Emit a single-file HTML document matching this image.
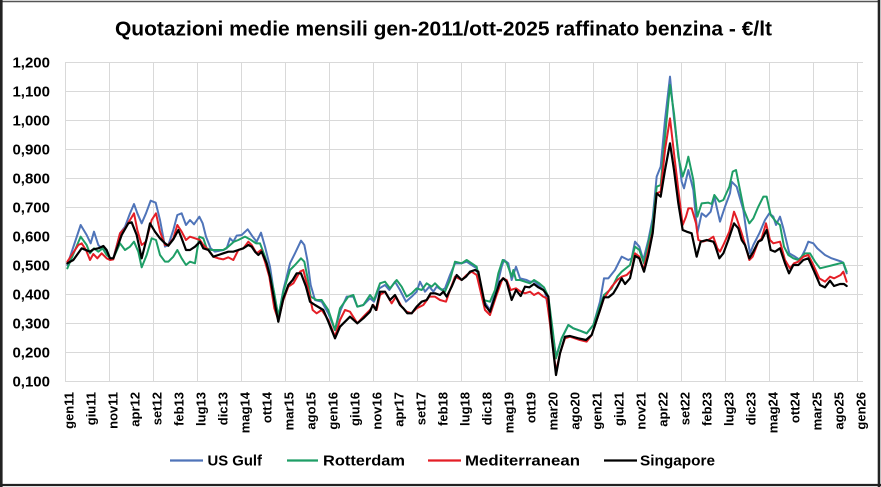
<!DOCTYPE html>
<html>
<head>
<meta charset="utf-8">
<style>
html,body{margin:0;padding:0;background:#fff;}
svg{display:block;}
text{font-family:"Liberation Sans",Arial,sans-serif;font-weight:bold;fill:#000;}
.s{fill:none;stroke-width:2;stroke-linejoin:round;stroke-linecap:round;vector-effect:non-scaling-stroke;}
.b{stroke:#4f74b9;}
.g{stroke:#1e9e66;}
.r{stroke:#e41e26;}
.k{stroke:#000;stroke-width:2.2;}
</style>
</head>
<body>
<svg width="881" height="487" viewBox="0 0 881 487" xmlns="http://www.w3.org/2000/svg">
<rect x="0" y="0" width="881" height="487" fill="#fff"/>

<!-- title -->
<text x="115" y="35.5" font-size="20" textLength="657" lengthAdjust="spacingAndGlyphs">Quotazioni medie mensili gen-2011/ott-2025 raffinato benzina - €/lt</text>

<!-- horizontal gridlines -->
<g stroke="#d9d9d9" stroke-width="1">
<line x1="65" y1="62.5" x2="863" y2="62.5"/>
<line x1="65" y1="91.5" x2="863" y2="91.5"/>
<line x1="65" y1="120.5" x2="863" y2="120.5"/>
<line x1="65" y1="149.5" x2="863" y2="149.5"/>
<line x1="65" y1="178.5" x2="863" y2="178.5"/>
<line x1="65" y1="207.5" x2="863" y2="207.5"/>
<line x1="65" y1="236.5" x2="863" y2="236.5"/>
<line x1="65" y1="265.5" x2="863" y2="265.5"/>
<line x1="65" y1="294.5" x2="863" y2="294.5"/>
<line x1="65" y1="323.5" x2="863" y2="323.5"/>
<line x1="65" y1="352.5" x2="863" y2="352.5"/>
<line x1="65" y1="381.5" x2="863" y2="381.5"/>
<!-- vertical gridlines -->
<line x1="65.5" y1="62" x2="65.5" y2="382"/>
<line x1="109.5" y1="62" x2="109.5" y2="382"/>
<line x1="153.5" y1="62" x2="153.5" y2="382"/>
<line x1="197.5" y1="62" x2="197.5" y2="382"/>
<line x1="241.5" y1="62" x2="241.5" y2="382"/>
<line x1="285.5" y1="62" x2="285.5" y2="382"/>
<line x1="329.5" y1="62" x2="329.5" y2="382"/>
<line x1="373.5" y1="62" x2="373.5" y2="382"/>
<line x1="417.5" y1="62" x2="417.5" y2="382"/>
<line x1="461.5" y1="62" x2="461.5" y2="382"/>
<line x1="505.5" y1="62" x2="505.5" y2="382"/>
<line x1="549.5" y1="62" x2="549.5" y2="382"/>
<line x1="593.5" y1="62" x2="593.5" y2="382"/>
<line x1="637.5" y1="62" x2="637.5" y2="382"/>
<line x1="681.5" y1="62" x2="681.5" y2="382"/>
<line x1="725.5" y1="62" x2="725.5" y2="382"/>
<line x1="769.5" y1="62" x2="769.5" y2="382"/>
<line x1="813.5" y1="62" x2="813.5" y2="382"/>
<line x1="857.5" y1="62" x2="857.5" y2="382"/>
</g>

<!-- y labels -->
<g font-size="15" text-anchor="end">
<text x="50" y="67.5">1,200</text>
<text x="50" y="96.5">1,100</text>
<text x="50" y="125.5">1,000</text>
<text x="50" y="154.5">0,900</text>
<text x="50" y="183.5">0,800</text>
<text x="50" y="212.5">0,700</text>
<text x="50" y="241.5">0,600</text>
<text x="50" y="270.5">0,500</text>
<text x="50" y="299.5">0,400</text>
<text x="50" y="328.5">0,300</text>
<text x="50" y="357.5">0,200</text>
<text x="50" y="386.5">0,100</text>
</g>

<!-- x labels -->
<g font-size="13" text-anchor="end">
<text transform="translate(73.7,392) rotate(-90)">gen11</text>
<text transform="translate(95.7,392) rotate(-90)">giu11</text>
<text transform="translate(117.7,392) rotate(-90)">nov11</text>
<text transform="translate(139.7,392) rotate(-90)">apr12</text>
<text transform="translate(161.7,392) rotate(-90)">set12</text>
<text transform="translate(183.7,392) rotate(-90)">feb13</text>
<text transform="translate(205.7,392) rotate(-90)">lug13</text>
<text transform="translate(227.7,392) rotate(-90)">dic13</text>
<text transform="translate(249.7,392) rotate(-90)">mag14</text>
<text transform="translate(271.7,392) rotate(-90)">ott14</text>
<text transform="translate(293.7,392) rotate(-90)">mar15</text>
<text transform="translate(315.7,392) rotate(-90)">ago15</text>
<text transform="translate(337.7,392) rotate(-90)">gen16</text>
<text transform="translate(359.7,392) rotate(-90)">giu16</text>
<text transform="translate(381.7,392) rotate(-90)">nov16</text>
<text transform="translate(403.7,392) rotate(-90)">apr17</text>
<text transform="translate(425.7,392) rotate(-90)">set17</text>
<text transform="translate(447.7,392) rotate(-90)">feb18</text>
<text transform="translate(469.7,392) rotate(-90)">lug18</text>
<text transform="translate(491.7,392) rotate(-90)">dic18</text>
<text transform="translate(513.7,392) rotate(-90)">mag19</text>
<text transform="translate(535.7,392) rotate(-90)">ott19</text>
<text transform="translate(557.7,392) rotate(-90)">mar20</text>
<text transform="translate(579.7,392) rotate(-90)">ago20</text>
<text transform="translate(601.7,392) rotate(-90)">gen21</text>
<text transform="translate(623.7,392) rotate(-90)">giu21</text>
<text transform="translate(645.7,392) rotate(-90)">nov21</text>
<text transform="translate(667.7,392) rotate(-90)">apr22</text>
<text transform="translate(689.7,392) rotate(-90)">set22</text>
<text transform="translate(711.7,392) rotate(-90)">feb23</text>
<text transform="translate(733.7,392) rotate(-90)">lug23</text>
<text transform="translate(755.7,392) rotate(-90)">dic23</text>
<text transform="translate(777.7,392) rotate(-90)">mag24</text>
<text transform="translate(799.7,392) rotate(-90)">ott24</text>
<text transform="translate(821.7,392) rotate(-90)">mar25</text>
<text transform="translate(843.7,392) rotate(-90)">ago25</text>
<text transform="translate(865.7,392) rotate(-90)">gen26</text>
</g>

<!-- ===== US Gulf (blue) ===== -->
<g transform="translate(60,180) scale(0.333333)">
<polyline class="s b" points="22,255 62,135 80,165 92,190 102,155 115,195 125,205 140,215 150,235 160,235 180,160 195,140 210,100 222,72 232,100 245,130 258,100 272,62 287,68 300,120 315,200 325,195 340,150 352,105 365,100 378,135 390,120 402,133 418,110 428,130 438,170 452,205 465,215 490,210 500,205 510,175 520,185 530,167 545,165 563,148 578,170 590,185 603,158 615,200 630,260 642,340 655,410"/>
</g>
<g transform="translate(270,220) scale(0.333333)">
<polyline class="s b" points="25,290 40,210 60,130 75,100 93,62 103,75 112,120 122,195 135,240 155,245 175,280 195,330 212,270 230,230 250,230 262,260 280,255 300,235 312,245 328,205 345,195 358,210 375,185 390,210 408,245 425,230 440,215 450,185 465,215 478,200 490,215 500,200 515,210 525,205 540,165 555,130 575,130 590,125 605,135 620,145 640,240 660,270"/>
</g>
<g transform="translate(480,210) scale(0.333333)">
<polyline class="s b" points="30,300 48,240 65,170 72,150 85,160 95,210 108,170 120,205 140,210 150,215 165,215 180,230 195,245 215,350 228,440 245,385 265,345 280,355 300,362 320,370 340,345 360,275 372,205"/>
</g>
<g transform="translate(580,60) scale(0.333333)">
<polyline class="s b" points="72,655 85,655 105,630 125,590 145,600 155,595 165,545 178,560 190,600 205,540 218,475 230,350 242,320 255,180 270,50 282,175 295,280 305,365 312,385 325,330 340,390 352,520 365,460 378,470 392,455 403,410 412,450 420,485 435,440 450,400 455,365 470,380 490,450 500,520 510,580 520,555 538,520 555,480 568,460 580,470 588,495 600,470 610,505 628,580 645,590 660,600 675,570 685,545 700,550 712,565 735,585 755,595 770,600 785,605 790,610 800,640"/>
</g>

<!-- ===== Rotterdam (green) ===== -->
<g transform="translate(60,180) scale(0.333333)">
<polyline class="s g" points="22,265 62,170 80,195 90,220 102,205 115,215 128,205 140,225 152,235 160,235 180,190 195,210 210,200 222,185 235,215 245,262 260,225 275,175 288,180 300,225 315,245 325,245 340,230 352,210 365,235 378,255 390,245 405,250 418,170 430,175 440,205 455,210 490,210 505,200 522,185 535,180 555,170 570,178 588,190 600,190 615,230 628,275 642,335 655,410"/>
</g>
<g transform="translate(270,220) scale(0.333333)">
<polyline class="s g" points="25,290 40,215 60,150 75,135 93,115 103,125 112,170 122,230 140,240 155,240 175,270 195,330 210,265 235,230 250,225 262,260 280,255 300,225 312,240 330,190 345,185 360,205 380,180 395,200 410,230 425,220 440,205 455,210 470,190 485,200 495,190 510,205 525,215 540,180 555,125 575,130 590,120 605,130 620,140 640,240 660,245"/>
</g>
<g transform="translate(480,210) scale(0.333333)">
<polyline class="s g" points="30,275 45,240 55,190 68,150 80,158 95,200 100,180 108,210 120,210 135,215 150,220 162,210 178,220 192,232 205,260 218,360 228,445 245,385 265,345 280,355 300,362 320,370 340,345 355,300 372,255"/>
</g>
<g transform="translate(580,60) scale(0.333333)">
<polyline class="s g" points="72,705 95,685 112,650 125,635 150,615 165,560 178,570 192,610 205,550 218,490 230,380 242,375 255,230 270,75 282,160 295,290 308,350 318,320 325,290 340,360 352,470 365,430 385,428 395,432 403,405 418,425 430,420 448,380 458,335 468,330 478,380 492,450 508,490 520,475 535,440 550,410 560,410 572,465 588,485 600,495 612,560 625,585 640,595 655,600 675,580 690,580 705,605 720,625 740,620 760,615 780,610 790,608 800,635"/>
</g>

<!-- ===== Mediterranean (red) ===== -->
<g transform="translate(60,180) scale(0.333333)">
<polyline class="s r" points="22,245 55,195 65,190 78,210 90,240 100,222 112,235 125,220 140,235 150,240 160,238 180,160 195,145 210,120 222,100 232,150 245,195 258,185 275,120 288,100 300,155 315,195 325,195 340,175 352,135 365,155 378,180 390,170 405,175 420,180 430,195 445,210 460,230 475,235 490,238 505,232 520,240 535,210 550,205 565,185 575,195 590,220 603,210 615,245 628,290 643,385 655,420"/>
</g>
<g transform="translate(270,220) scale(0.333333)">
<polyline class="s r" points="25,300 40,240 55,200 70,190 90,155 100,150 115,210 128,270 140,280 155,270 175,300 195,350 210,300 225,270 240,275 262,310 280,290 300,270 310,255 320,270 330,225 345,215 365,250 378,230 395,260 410,275 425,280 440,265 460,255 478,230 495,230 510,240 528,245 540,210 555,170 575,180 590,165 605,155 620,165 645,270 660,285"/>
</g>
<g transform="translate(480,210) scale(0.333333)">
<polyline class="s r" points="30,315 48,260 68,205 80,210 92,240 108,235 122,245 135,250 150,245 162,255 175,248 190,260 200,265 215,380 228,485 240,430 255,385 270,380 300,390 320,395 335,375 350,330 372,265"/>
</g>
<g transform="translate(580,60) scale(0.333333)">
<polyline class="s r" points="72,715 95,680 112,660 125,650 140,645 155,630 165,580 178,590 190,630 205,570 218,515 230,400 242,395 255,270 270,175 282,280 295,390 308,495 318,470 325,445 335,445 348,490 355,540 368,545 385,540 400,530 412,565 420,575 430,555 448,515 462,455 470,475 485,520 497,560 508,600 518,590 535,545 545,535 558,490 570,540 580,550 600,545 615,600 630,625 642,610 655,605 670,590 685,585 700,615 718,655 735,665 750,650 762,655 782,645 790,635 800,665"/>
</g>

<!-- ===== Singapore (black) ===== -->
<g transform="translate(60,180) scale(0.333333)">
<polyline class="s k" points="22,250 40,240 65,205 90,215 100,208 115,205 130,198 140,210 150,235 160,235 185,165 205,130 215,127 230,165 245,235 260,175 270,130 285,155 300,175 315,190 325,197 340,178 355,150 365,175 378,210 390,210 405,200 420,185 430,205 445,210 460,230 475,225 490,220 505,215 520,215 535,210 550,205 565,195 575,200 585,215 595,225 605,215 620,250 630,290 640,345 648,390 655,425"/>
</g>
<g transform="translate(270,220) scale(0.333333)">
<polyline class="s k" points="25,305 40,235 55,195 68,180 80,160 93,160 108,200 120,245 135,255 160,270 175,305 195,355 210,320 225,305 240,290 262,310 280,295 300,275 308,255 318,270 330,215 345,215 360,240 375,225 390,255 400,265 412,280 425,280 440,260 455,245 470,240 482,220 495,220 510,225 520,215 530,230 545,200 560,165 575,180 588,170 600,155 615,150 625,155 645,255 660,275"/>
</g>
<g transform="translate(480,210) scale(0.333333)">
<polyline class="s k" points="30,305 45,260 60,215 70,205 80,215 95,270 108,240 122,258 135,230 148,232 162,222 175,232 190,240 205,260 215,380 228,495 240,430 255,380 270,378 295,385 318,390 335,375 350,330 360,300 372,262"/>
</g>
<g transform="translate(580,60) scale(0.333333)">
<polyline class="s k" points="72,712 85,712 100,700 112,680 125,655 135,672 150,655 165,588 178,595 192,635 205,585 218,520 230,400 242,410 255,330 270,250 282,330 295,430 308,510 320,515 335,520 350,590 362,545 380,540 400,545 405,555 418,595 430,580 445,540 462,490 475,505 485,540 495,555 508,595 520,575 535,545 545,540 560,510 572,570 585,575 600,565 615,610 627,640 640,615 655,615 670,600 685,595 705,640 720,675 735,682 750,662 762,678 780,672 792,672 800,678"/>
</g>

<!-- legend -->
<g stroke-width="2.2">
<line x1="170" y1="460.5" x2="203" y2="460.5" stroke="#4f74b9"/>
<line x1="287" y1="460.5" x2="318" y2="460.5" stroke="#1e9e66"/>
<line x1="428" y1="460.5" x2="461" y2="460.5" stroke="#e41e26"/>
<line x1="604" y1="460.5" x2="637" y2="460.5" stroke="#000"/>
</g>
<g font-size="15">
<text x="207.5" y="465.5" textLength="54.5" lengthAdjust="spacingAndGlyphs">US Gulf</text>
<text x="323" y="465.5" textLength="82" lengthAdjust="spacingAndGlyphs">Rotterdam</text>
<text x="465" y="465.5" textLength="115" lengthAdjust="spacingAndGlyphs">Mediterranean</text>
<text x="640" y="465.5" textLength="75" lengthAdjust="spacingAndGlyphs">Singapore</text>
</g>

<!-- outer frame -->
<line x1="0" y1="1.5" x2="880" y2="1.5" stroke="#555" stroke-width="1.5"/>
<line x1="1.3" y1="0" x2="1.3" y2="487" stroke="#222" stroke-width="2.6"/>
<line x1="879" y1="0" x2="879" y2="487" stroke="#222" stroke-width="2.6"/>
<line x1="0" y1="485" x2="881" y2="485" stroke="#222" stroke-width="2.2"/>
</svg>
</body>
</html>
